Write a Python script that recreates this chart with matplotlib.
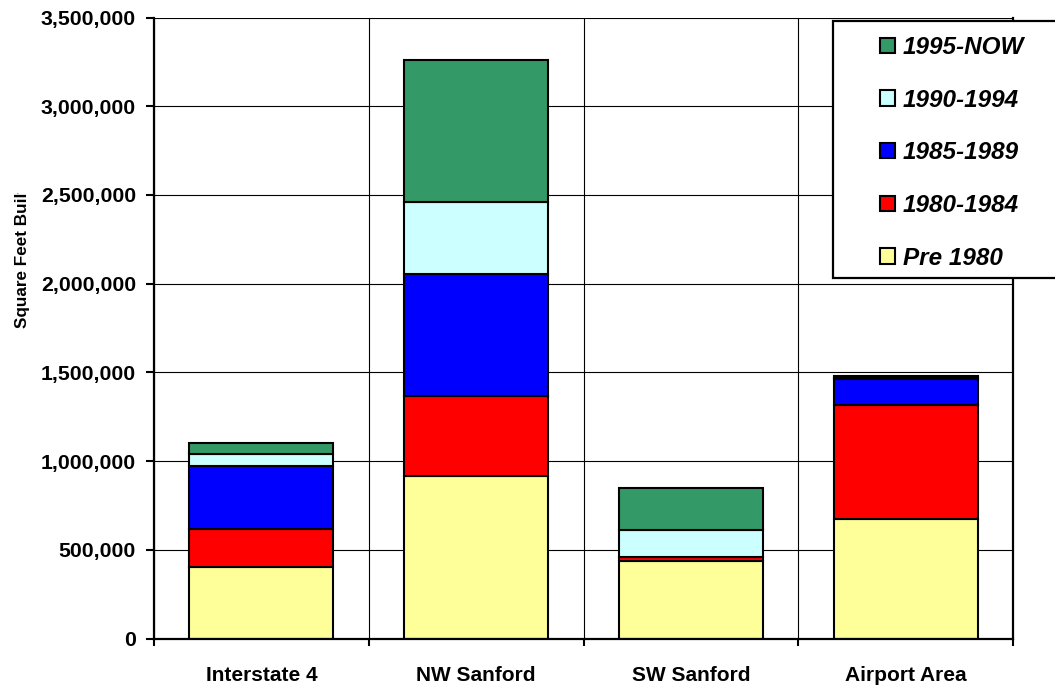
import matplotlib
matplotlib.use("Agg")
import matplotlib.pyplot as plt
import numpy as np
from matplotlib.patches import Patch, Rectangle
from matplotlib.ticker import FuncFormatter, FixedLocator
from matplotlib.transforms import Bbox

plt.rcParams['font.family'] = ['Liberation Sans', 'DejaVu Sans']

# Square feet built by area and construction period
areas = ["Interstate 4", "NW Sanford", "SW Sanford", "Airport Area"]
periods = ["Pre 1980", "1980-1984", "1985-1989", "1990-1994", "1995-NOW"]
pre_1980 = [405000, 914000, 439000, 675000]
p1980_1984 = [213000, 451000, 19000, 643000]
p1985_1989 = [353000, 688000, 2000, 147000]
p1990_1994 = [67000, 406000, 149000, 6000]
p1995_now = [64000, 804000, 237000, 7000]
series = [pre_1980, p1980_1984, p1985_1989, p1990_1994, p1995_now]
colors = ["#FFFF99", "#FF0000", "#0000FF", "#CCFFFF", "#339966"]
y_ticks = [0, 500000, 1000000, 1500000, 2000000, 2500000, 3000000, 3500000]

W, H = 1055, 686
fig = plt.figure(figsize=(W / 100, H / 100), dpi=100)
ax = fig.add_axes([154 / W, 1 - 638.5 / H, (1013 - 154) / W, (638.5 - 17.5) / H])

x = np.arange(len(areas))
bottom = np.zeros(len(areas))
for vals, col, lab in zip(series, colors, periods):
    ax.bar(x, vals, width=0.67, bottom=bottom, color=col, edgecolor="black",
           linewidth=1.5, label=lab, zorder=3)
    bottom += np.array(vals)

ax.set_xlim(-0.5, len(areas) - 0.5)
ax.set_ylim(0, 3500000)
ax.set_yticks(y_ticks)
ax.yaxis.set_major_formatter(FuncFormatter(lambda v, p: f"{int(v):,}"))

ax.set_xticks(x)
ax.set_xticklabels(areas)
ax.xaxis.set_minor_locator(FixedLocator(np.arange(-0.5, len(areas), 1.0)))

for lab in ax.get_xticklabels() + ax.get_yticklabels():
    lab.set_fontweight("bold")

ax.tick_params(axis="x", which="major", length=0, labelsize=15, pad=20)
ax.tick_params(axis="x", which="minor", length=5, width=1.5, direction="out")
ax.tick_params(axis="y", which="major", length=6, width=1.5, direction="out",
               labelsize=15.3, pad=7)

ax.grid(axis="y", which="major", color="black", linewidth=0.8, zorder=0)
ax.grid(axis="x", which="minor", color="black", linewidth=0.8, zorder=0)
ax.set_axisbelow(True)

ax.spines["top"].set_visible(False)
for s in ["left", "bottom", "right"]:
    ax.spines[s].set_linewidth(1.6)
    ax.spines[s].set_zorder(5)

# Axis title, cut at the top edge of its text area
ylab = fig.text(23 / W, 1 - 328 / H, "Square Feet Built", rotation=90,
                ha="center", va="bottom", fontsize=12.3, fontweight="bold")
ylab.set_clip_box(Bbox.from_extents(0, 0, W, H - 193))
ylab.set_clip_on(True)

# Legend frame and entries (newest period on top)
fig.patches.append(Rectangle((833 / W, 1 - 278 / H), (W + 20 - 833) / W,
                             (278 - 20.7) / H, transform=fig.transFigure,
                             facecolor="white", edgecolor="black",
                             linewidth=1.6, zorder=10))
handles = [Patch(facecolor=c, edgecolor="black", linewidth=1.5)
           for c in colors][::-1]
leg = fig.legend(handles, periods[::-1], loc="upper left",
                 bbox_to_anchor=(880 / W, 1 - 36 / H), frameon=False,
                 prop={"size": 17.5, "weight": "bold", "style": "italic"},
                 handlelength=0.6, handleheight=0.6, handletextpad=0.33,
                 labelspacing=1.22, borderpad=0, borderaxespad=0)
leg.set_zorder(11)

fig.savefig("out.png", dpi=100)
